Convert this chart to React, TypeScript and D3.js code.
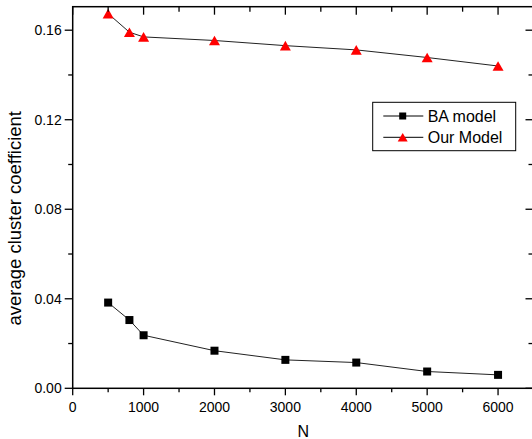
import React from "react";
import * as d3 from "d3";

const Ns = [500, 800, 1000, 2000, 3000, 4000, 5000, 6000];
const baModel = [0.0383, 0.0305, 0.0237, 0.0168, 0.0127, 0.0115, 0.0075, 0.006];
const ourModel = [0.1674, 0.1591, 0.157, 0.1554, 0.1531, 0.1512, 0.1478, 0.144];
const xTicks = [0, 1000, 2000, 3000, 4000, 5000, 6000];
const xMinor = [500, 1500, 2500, 3500, 4500, 5500, 6500];
const yTicks = [0, 0.04, 0.08, 0.12, 0.16];
const yMinor = [0.02, 0.06, 0.1, 0.14];
const seriesNames = ["BA model", "Our Model"];

const W = 532, H = 439;
const L = 72.7, T = 6.7, B = 388.3, R = 533.5;
const font = "'Liberation Sans', Arial, Helvetica, sans-serif";

export default function App() {
  const x = d3.scaleLinear().domain([0, 6500]).range([L, R]);
  const y = d3.scaleLinear().domain([0, 0.1705]).range([B, T]);
  const line = d3.line<number>().x((_, i) => x(Ns[i])).y((d) => y(d));
  const tri = (cx: number, cy: number, w: number, h: number) =>
    `M${cx},${cy - h / 2}L${cx + w / 2},${cy + h / 2}L${cx - w / 2},${cy + h / 2}Z`;

  const lx0 = 383.3, lx1 = 423.3, lmx = 402.7, ltx = 427.7;
  const ly = [116, 137.3];

  return (
    <svg width={W} height={H} style={{ position: "fixed", left: 0, top: 0 }} fontFamily={font}>
      <rect width={W} height={H} fill="white" />
      <path d={line(baModel) || ""} fill="none" stroke="#222" strokeWidth={1} />
      <path d={line(ourModel) || ""} fill="none" stroke="#222" strokeWidth={1} />
      {baModel.map((v, i) => (
        <rect key={"b" + i} x={x(Ns[i]) - 4} y={y(v) - 4} width={8} height={8} fill="black" />
      ))}
      {ourModel.map((v, i) => (
        <path key={"o" + i} d={tri(x(Ns[i]), y(v), 11, 9.6)} fill="red" />
      ))}
      <rect x={L} y={T} width={R - L} height={B - T} fill="none" stroke="black" strokeWidth={1.5} />
      {xTicks.map((t) => (
        <g key={"xt" + t}>
          <line x1={x(t)} x2={x(t)} y1={B} y2={B + 7} stroke="black" strokeWidth={1.3} />
          <line x1={x(t)} x2={x(t)} y1={T} y2={T + 8} stroke="black" strokeWidth={1.3} />
          <text x={x(t)} y={411.5} fontSize={14} textAnchor="middle" fill="black">{t}</text>
        </g>
      ))}
      {xMinor.map((t) => (
        <g key={"xm" + t}>
          <line x1={x(t)} x2={x(t)} y1={B} y2={B + 4} stroke="black" strokeWidth={1.3} />
          <line x1={x(t)} x2={x(t)} y1={T} y2={T + 5} stroke="black" strokeWidth={1.3} />
        </g>
      ))}
      {yTicks.map((t) => (
        <g key={"yt" + t}>
          <line x1={L - 8} x2={L} y1={y(t)} y2={y(t)} stroke="black" strokeWidth={1.3} />
          <line x1={R - 8} x2={R} y1={y(t)} y2={y(t)} stroke="black" strokeWidth={1.3} />
          <text x={L - 11} y={y(t) + 5} fontSize={14} textAnchor="end" fill="black">{t.toFixed(2)}</text>
        </g>
      ))}
      {yMinor.map((t) => (
        <g key={"ym" + t}>
          <line x1={L - 4.5} x2={L} y1={y(t)} y2={y(t)} stroke="black" strokeWidth={1.3} />
          <line x1={R - 5} x2={R} y1={y(t)} y2={y(t)} stroke="black" strokeWidth={1.3} />
        </g>
      ))}
      <text x={(L + 534) / 2} y={436.5} fontSize={16} textAnchor="middle" fill="black">N</text>
      <text transform="translate(21,218.3) rotate(-90)" fontSize={18.5} textAnchor="middle" fill="black">
        average cluster coefficient
      </text>
      <rect x={372.7} y={102.3} width={143} height={48.4} fill="white" stroke="black" strokeWidth={1} />
      {seriesNames.map((n, i) => (
        <g key={n}>
          <line x1={lx0} x2={lx1} y1={ly[i]} y2={ly[i]} stroke="black" strokeWidth={1} />
          {i === 0 ? (
            <rect x={lmx - 3.5} y={ly[i] - 3.5} width={7} height={7} fill="black" />
          ) : (
            <path d={tri(lmx, ly[i], 10, 8.5)} fill="red" />
          )}
          <text x={ltx} y={ly[i] + 6} fontSize={16} fill="black">{n}</text>
        </g>
      ))}
    </svg>
  );
}
